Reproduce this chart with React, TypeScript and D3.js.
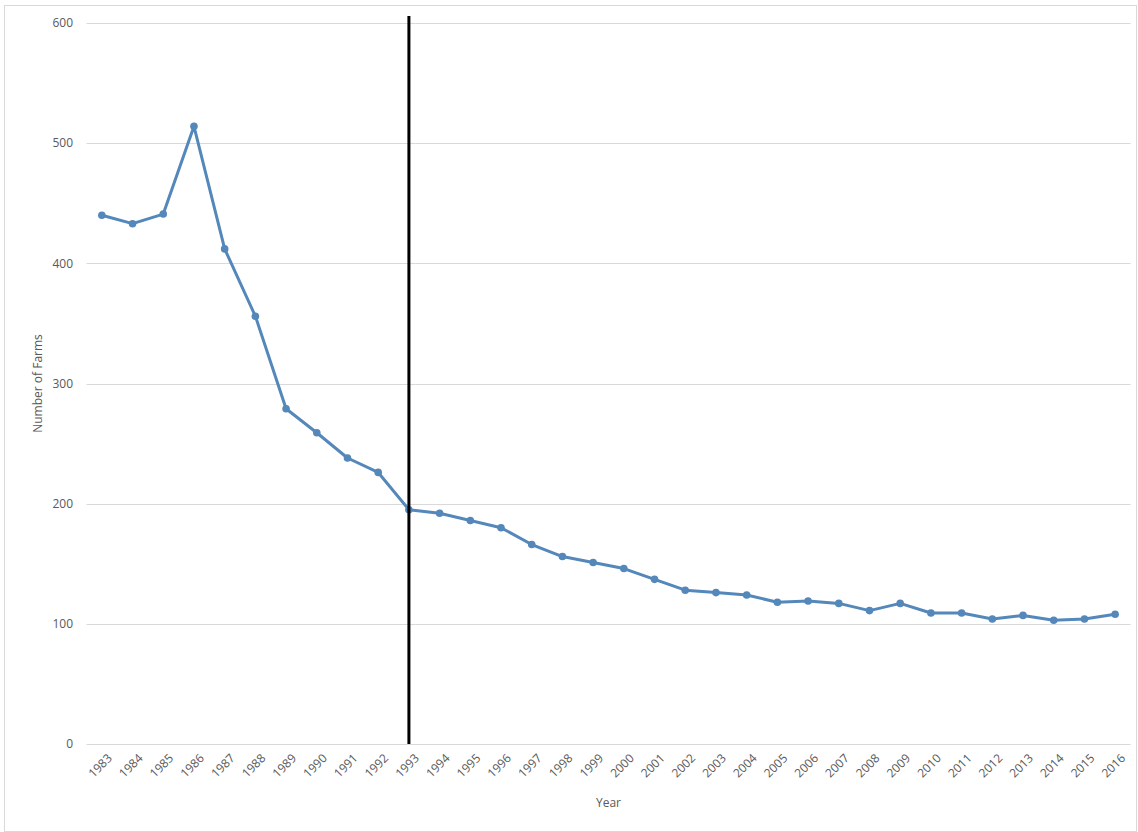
import React from "react";
import * as d3 from "d3";

const years: string[] = [
  "1983", "1984", "1985", "1986", "1987", "1988", "1989", "1990", "1991", "1992",
  "1993", "1994", "1995", "1996", "1997", "1998", "1999", "2000", "2001", "2002",
  "2003", "2004", "2005", "2006", "2007", "2008", "2009", "2010", "2011", "2012",
  "2013", "2014", "2015", "2016",
];

const farms: number[] = [
  440, 433, 441, 514, 412, 356, 279, 259, 238, 226,
  195, 192, 186, 180, 166, 156, 151, 146, 137, 128,
  126, 124, 118, 119, 117, 111, 117, 109, 109, 104,
  107, 103, 104, 108,
];

const yTicks: number[] = [0, 100, 200, 300, 400, 500, 600];
const markerYear = "1993";

const W = 1138;
const H = 832;
const plot = { left: 86.5, right: 1130.5, top: 23, bottom: 744 };
const font = "'Open Sans', 'Liberation Sans', sans-serif";
const lineColor = "#5487ba";
const textColor = "#595959";

export default function App() {
  const x = d3
    .scaleBand<string>()
    .domain(years)
    .range([plot.left, plot.right])
    .padding(0);
  const cx = (y: string) => (x(y) as number) + x.bandwidth() / 2;
  const y = d3.scaleLinear().domain([0, 600]).range([plot.bottom, plot.top]);

  const line = d3
    .line<number>()
    .x((_, i) => cx(years[i]))
    .y((d) => y(d));

  const pts = farms.map((v, i) => ({ x: cx(years[i]), y: y(v) }));

  return (
    <svg
      width={W}
      height={H}
      style={{ position: "absolute", left: 0, top: 0, background: "#fff" }}
    >
      <rect x={4.5} y={5.5} width={1132} height={826} fill="#fff" stroke="#d9d9d9" strokeWidth={1} />

      {yTicks.map((t) => (
        <g key={t}>
          <line
            x1={plot.left}
            x2={plot.right}
            y1={Math.round(y(t)) + 0.5}
            y2={Math.round(y(t)) + 0.5}
            stroke="#d9d9d9"
            strokeWidth={1}
          />
          <text
            x={73}
            y={y(t)}
            dy="0.35em"
            textAnchor="end"
            fontFamily={font}
            fontSize={12}
            fill={textColor}
          >
            {t}
          </text>
        </g>
      ))}

      {years.map((yr) => (
        <text
          key={yr}
          transform={`translate(${cx(yr) + 5},${plot.bottom + 9}) rotate(-45)`}
          textAnchor="end"
          dy="0.7em"
          fontFamily={font}
          fontSize={12}
          fill={textColor}
        >
          {yr}
        </text>
      ))}

      <text
        x={(plot.left + plot.right) / 2}
        y={807}
        textAnchor="middle"
        fontFamily={font}
        fontSize={12}
        fill={textColor}
      >
        Year
      </text>
      <text
        transform={`translate(42,${(plot.top + plot.bottom) / 2}) rotate(-90)`}
        textAnchor="middle"
        fontFamily={font}
        fontSize={12}
        fill={textColor}
      >
        Number of Farms
      </text>

      <path
        d={line(farms) ?? ""}
        fill="none"
        stroke={lineColor}
        strokeWidth={3}
        strokeLinejoin="round"
        strokeLinecap="round"
      />
      {pts.map((p, i) => (
        <circle key={i} cx={p.x} cy={p.y} r={3.8} fill={lineColor} />
      ))}

      <line
        x1={cx(markerYear)}
        x2={cx(markerYear)}
        y1={16}
        y2={plot.bottom}
        stroke="#000"
        strokeWidth={3}
      />
    </svg>
  );
}
